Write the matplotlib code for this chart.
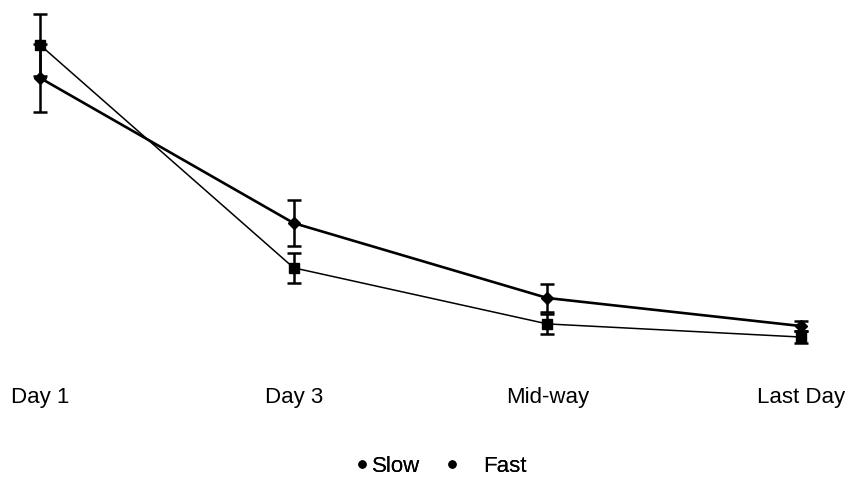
"""Two-series line chart with error bars, no visible axes."""
import matplotlib
import matplotlib.pyplot as plt
from matplotlib.lines import Line2D

matplotlib.use("Agg")

days = ["Day 1", "Day 3", "Mid-way", "Last Day"]
slow_mean = [9.13, 2.85, 1.27, 0.90]
slow_err = [0.87, 0.42, 0.28, 0.17]
fast_mean = [8.20, 4.11, 2.00, 1.21]
fast_err = [0.96, 0.65, 0.39, 0.14]
series_names = ["Slow", "Fast"]

plt.rcParams["font.family"] = ["Liberation Sans", "DejaVu Sans"]

fig = plt.figure(figsize=(8.53, 5.02), dpi=100)
ax = fig.add_axes([40 / 853, 132 / 502, 761 / 853, 355 / 502])
x = list(range(len(days)))

ax.errorbar(
    x, fast_mean, yerr=fast_err,
    color="black", lw=1.9, marker="D", ms=6,
    elinewidth=1.8, capsize=5, capthick=1.8, clip_on=False, zorder=3,
)
ax.errorbar(
    x, slow_mean, yerr=slow_err,
    color="black", lw=1.1, marker="s", ms=6.5,
    elinewidth=1.8, capsize=5, capthick=1.8, clip_on=False, zorder=3,
)

ax.set_xlim(0, 3)
ax.set_ylim(0, 10)
ax.set_xticks(x)
ax.set_xticklabels(days, fontsize=16)
ax.tick_params(axis="x", length=0, pad=12)
ax.set_yticks([])
for s in ax.spines.values():
    s.set_visible(False)

# two separate one-entry legends so the bullet/text gaps can differ
for name, left, gap in zip(series_names, [357.6, 447.6], [0.25, 1.2]):
    h = Line2D([], [], ls="none", marker="o", ms=5, color="black")
    leg = fig.legend(
        [h], [name], loc="center left", bbox_to_anchor=(left / 853, 1 - 467 / 502),
        frameon=False, fontsize=16, handlelength=0.4, handletextpad=gap,
        borderpad=0, borderaxespad=0,
    )
    fig.add_artist(leg)

fig.savefig("out.png", dpi=100)
